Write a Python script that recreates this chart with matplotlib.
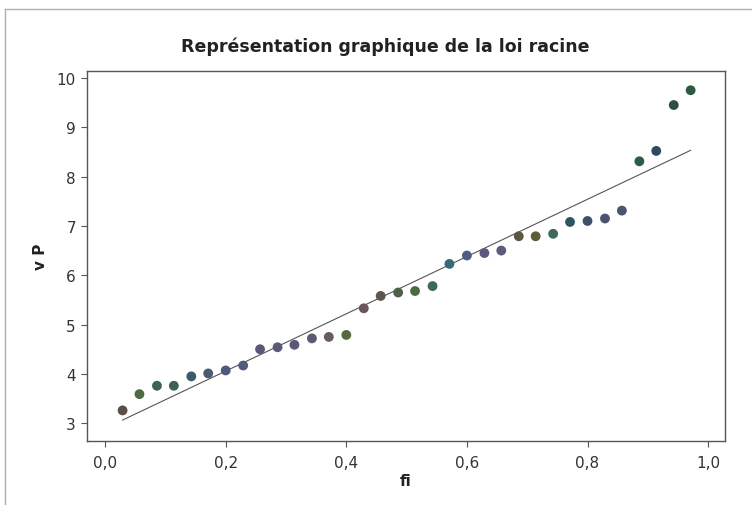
import matplotlib.pyplot as plt
from matplotlib.lines import Line2D
import numpy as np

# fréquences cumulées et valeurs observées (v P)
fi = [0.029, 0.057, 0.086, 0.114, 0.143, 0.171, 0.200, 0.229, 0.257, 0.286,
      0.314, 0.343, 0.371, 0.400, 0.429, 0.457, 0.486, 0.514, 0.543, 0.571,
      0.600, 0.629, 0.657, 0.686, 0.714, 0.743, 0.771, 0.800, 0.829, 0.857,
      0.886, 0.914, 0.943, 0.971]
vp = [3.26, 3.59, 3.76, 3.76, 3.95, 4.01, 4.07, 4.17, 4.50, 4.54,
      4.59, 4.72, 4.75, 4.79, 5.33, 5.58, 5.65, 5.68, 5.78, 6.23,
      6.40, 6.45, 6.50, 6.79, 6.79, 6.84, 7.08, 7.10, 7.15, 7.31,
      8.31, 8.52, 9.45, 9.75]

# couleurs des points
couleurs = ['#5b4d48', '#4d6b45', '#3d6450', '#3f6158', '#3d5a6a', '#4a5a72',
            '#4d5a80', '#55597a', '#5a5878', '#5a5a7a', '#5a5a78', '#5e5a72',
            '#6a5c5a', '#566a3e', '#6a5658', '#5e5450', '#4e6045', '#4b6a46',
            '#3f6a52', '#3a6a78', '#505c82', '#5a5a7c', '#5c5c7c', '#5e5644',
            '#5c5c38', '#3e6a58', '#2f5460', '#3d5068', '#4e5270', '#4a5670',
            '#2e5a48', '#2e4a60', '#2d5040', '#2e5a44']

# droite d'ajustement
pente, ordonnee = np.polyfit(fi, vp, 1)
x_droite = np.array([fi[0], fi[-1]])
y_droite = pente * x_droite + ordonnee

fig = plt.figure(figsize=(7.52, 5.06), dpi=100)
ax = fig.add_axes([87 / 752, 1 - 442 / 506, (725 - 87) / 752, (442 - 72) / 506])

ax.plot(x_droite, y_droite, color='#555555', linewidth=0.8, zorder=2)
ax.scatter(fi, vp, s=50, c=couleurs, edgecolors='none', zorder=3)

ax.set_xlim(-0.03, 1.028)
ax.set_ylim(2.64, 10.14)
ax.set_xticks([0.0, 0.2, 0.4, 0.6, 0.8, 1.0])
ax.set_xticklabels(['0,0', '0,2', '0,4', '0,6', '0,8', '1,0'])
ax.set_yticks([3, 4, 5, 6, 7, 8, 9, 10])

ax.tick_params(direction='out', length=4, width=0.8, color='#555555',
               labelsize=11, labelcolor='#333333', pad=4)
ax.tick_params(axis='x', pad=6)
for s in ax.spines.values():
    s.set_color('#555555')
    s.set_linewidth(1.0)

ax.set_xlabel('fi', fontsize=11, fontweight='bold', color='#222222', labelpad=2)
ax.set_ylabel('v P', fontsize=11, fontweight='bold', color='#222222', labelpad=6)

fig.text(0.512, 1 - 47 / 506, 'Représentation graphique de la loi racine',
         ha='center', va='center', fontsize=12.5, fontweight='bold', color='#222222')

# cadre extérieur
fig.add_artist(Line2D([5 / 752, 5 / 752], [0, 1 - 10 / 506], transform=fig.transFigure,
                      color='#b0b0b0', linewidth=1))
fig.add_artist(Line2D([5 / 752, 1], [1 - 10 / 506, 1 - 10 / 506], transform=fig.transFigure,
                      color='#b0b0b0', linewidth=1))

fig.savefig('out.png', dpi=100)
